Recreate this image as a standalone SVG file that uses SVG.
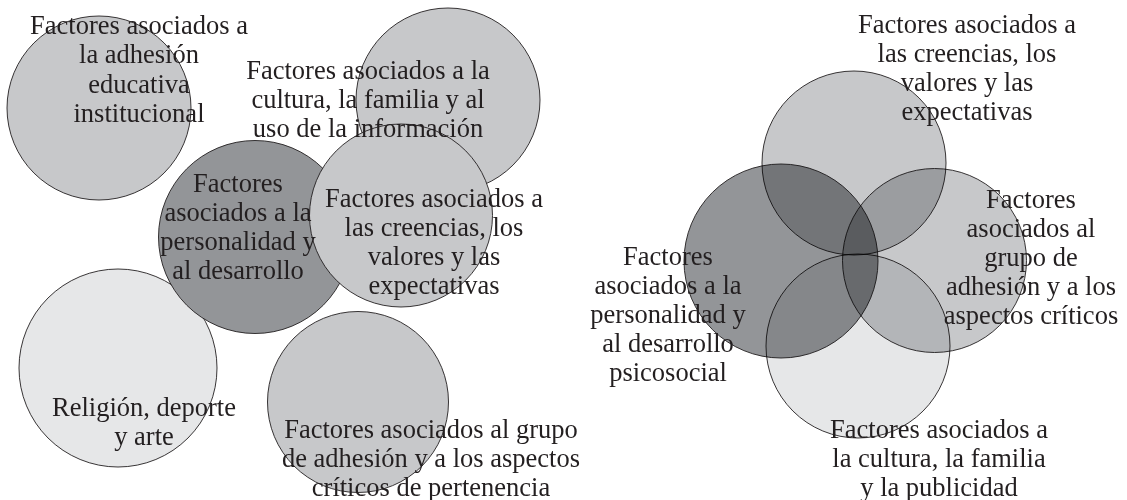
<svg xmlns="http://www.w3.org/2000/svg" width="1127" height="500" viewBox="0 0 1127 500">
  <style>
    .c { stroke: #231f20; stroke-width: 0.9; }
    .mid { fill: #c7c8ca; }
    .dark { fill: #939598; }
    .pale { fill: #e6e7e8; }
    .mx { mix-blend-mode: multiply; }
    text { font-family: "Liberation Serif", "Times New Roman", serif; font-size: 26.5px; fill: #231f20; text-anchor: middle; }
  </style>
  <rect width="1127" height="500" fill="#ffffff"/>
  <!-- Left panel -->
  <g id="adhesion-educativa"><circle class="c mid" cx="99" cy="108" r="92"/></g>
  <g id="cultura-informacion"><circle class="c mid" cx="448" cy="100" r="92"/></g>
  <g id="religion-deporte-arte"><circle class="c pale" cx="118" cy="368" r="99"/></g>
  <g id="personalidad-desarrollo"><circle class="c dark" cx="255" cy="237" r="96.5"/></g>
  <g id="creencias-valores"><circle class="c mid" cx="401" cy="215.5" r="91.5"/></g>
  <g id="grupo-pertenencia"><circle class="c mid" cx="358" cy="402" r="90.5"/></g>
  <!-- Right panel -->
  <g id="r-creencias"><circle class="c mid mx" cx="854" cy="163" r="92"/></g>
  <g id="r-personalidad"><circle class="c dark mx" cx="781" cy="261" r="97"/></g>
  <g id="r-grupo"><circle class="c mid mx" cx="934.5" cy="260.5" r="92"/></g>
  <g id="r-cultura"><circle class="c pale mx" cx="858" cy="346" r="92"/></g>
  <!-- Labels -->
  <g id="labels">
    <g id="label-adhesion-educativa">
      <text x="139" y="34">Factores asociados a</text>
      <text x="139" y="63">la adhesión</text>
      <text x="139" y="93">educativa</text>
      <text x="139" y="122">institucional</text>
    </g>
    <g id="label-cultura-informacion">
      <text x="368" y="79">Factores asociados a la</text>
      <text x="368" y="108">cultura, la familia y al</text>
      <text x="368" y="137">uso de la información</text>
    </g>
    <g id="label-personalidad-desarrollo">
      <text x="238" y="192">Factores</text>
      <text x="238" y="221">asociados a la</text>
      <text x="238" y="250">personalidad y</text>
      <text x="238" y="279">al desarrollo</text>
    </g>
    <g id="label-creencias-valores">
      <text x="434" y="207">Factores asociados a</text>
      <text x="434" y="236">las creencias, los</text>
      <text x="434" y="265">valores y las</text>
      <text x="434" y="294">expectativas</text>
    </g>
    <g id="label-religion-deporte-arte">
      <text x="144" y="416">Religión, deporte</text>
      <text x="144" y="445">y arte</text>
    </g>
    <g id="label-grupo-pertenencia">
      <text x="431" y="438">Factores asociados al grupo</text>
      <text x="431" y="467">de adhesión y a los aspectos</text>
      <text x="431" y="496">críticos de pertenencia</text>
    </g>
    <g id="label-r-creencias">
      <text x="967" y="33">Factores asociados a</text>
      <text x="967" y="62">las creencias, los</text>
      <text x="967" y="91">valores y las</text>
      <text x="967" y="120">expectativas</text>
    </g>
    <g id="label-r-grupo">
      <text x="1031" y="208">Factores</text>
      <text x="1031" y="237">asociados al</text>
      <text x="1031" y="266">grupo de</text>
      <text x="1031" y="295">adhesión y a los</text>
      <text x="1031" y="324">aspectos críticos</text>
    </g>
    <g id="label-r-personalidad">
      <text x="668" y="265">Factores</text>
      <text x="668" y="294">asociados a la</text>
      <text x="668" y="323">personalidad y</text>
      <text x="668" y="352">al desarrollo</text>
      <text x="668" y="381">psicosocial</text>
    </g>
    <g id="label-r-cultura">
      <text x="939" y="438">Factores asociados a</text>
      <text x="939" y="467">la cultura, la familia</text>
      <text x="939" y="496">y la publicidad</text>
    </g>
  </g>
</svg>
